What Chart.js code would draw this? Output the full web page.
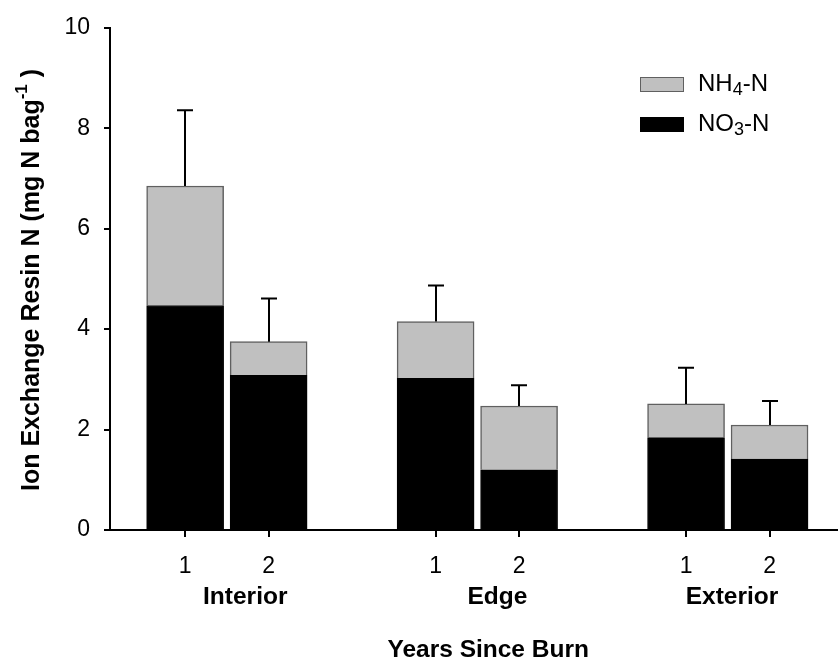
<!DOCTYPE html>
<html>
<head>
<meta charset="utf-8">
<script src="https://cdn.jsdelivr.net/npm/chart.js@4"></script>
<style>
  body { margin: 0; background: #fff; }
  #wrap { width: 838px; height: 667px; }
</style>
</head>
<body>
<div id="wrap"><canvas id="myChart"></canvas></div>
<script>
// data
const groups = ['Interior', 'Edge', 'Exterior'];
const groupPos = [1.72, 4.74, 7.55];
const years = ['1', '2', '1', '2', '1', '2'];
const xPos = [1, 2, 4, 5, 7, 8];
const no3 = [4.47, 3.08, 3.02, 1.20, 1.84, 1.41];
const nh4 = [2.38, 0.67, 1.13, 1.27, 0.67, 0.68];
const errs = [1.51, 0.86, 0.72, 0.41, 0.72, 0.48];
const yTicks = [0, 2, 4, 6, 8, 10];

const FONT = "'Liberation Sans', Arial, sans-serif";

const ctx = document.getElementById('myChart');

// error bars, group names, titles and legend
const extras = {
  id: 'extras',
  afterDatasetsDraw(chart) {
    const c = chart.ctx;
    const xs = chart.scales.x, ys = chart.scales.y;
    c.save();
    c.strokeStyle = '#000';
    c.lineWidth = 2;
    for (let i = 0; i < xPos.length; i++) {
      const px = Math.round(xs.getPixelForValue(xPos[i]));
      const top = ys.getPixelForValue(no3[i] + nh4[i]);
      const end = ys.getPixelForValue(no3[i] + nh4[i] + errs[i]);
      c.beginPath();
      c.moveTo(px, top);
      c.lineTo(px, end);
      c.moveTo(px - 8, end);
      c.lineTo(px + 8, end);
      c.stroke();
    }
    c.restore();
  },
  afterDraw(chart) {
    const c = chart.ctx;
    const xs = chart.scales.x;
    const base = chart.chartArea.bottom;
    c.save();
    c.fillStyle = '#000';
    c.textAlign = 'center';
    c.textBaseline = 'middle';

    c.font = 'bold 24.5px ' + FONT;
    groups.forEach((g, i) => {
      c.fillText(g, xs.getPixelForValue(groupPos[i]), base + 67);
    });
    c.fillText('Years Since Burn', xs.getPixelForValue(4.63), base + 120);

    // y title with superscript
    c.translate(32, 280);
    c.rotate(-Math.PI / 2);
    const main = 'Ion Exchange Resin N (mg N bag';
    const sup = '-1';
    const tail = ' )';
    c.font = 'bold 25px ' + FONT;
    const wm = c.measureText(main).width, wt = c.measureText(tail).width;
    c.font = 'bold 17px ' + FONT;
    const ws = c.measureText(sup).width;
    let x0 = -(wm + ws + wt) / 2;
    c.textAlign = 'left';
    c.font = 'bold 25px ' + FONT;
    c.fillText(main, x0, 0);
    c.font = 'bold 17px ' + FONT;
    c.fillText(sup, x0 + wm, -10);
    c.font = 'bold 25px ' + FONT;
    c.fillText(tail, x0 + wm + ws, 0);
    c.restore();

    // legend
    c.save();
    const items = [
      { ds: chart.data.datasets[1], main: 'NH', sub: '4', rest: '-N', y: 84 },
      { ds: chart.data.datasets[0], main: 'NO', sub: '3', rest: '-N', y: 124 }
    ];
    c.textBaseline = 'middle';
    c.textAlign = 'left';
    items.forEach(it => {
      c.fillStyle = it.ds.backgroundColor;
      c.fillRect(640, it.y - 7, 44, 15);
      c.strokeStyle = it.ds.borderColor;
      c.lineWidth = 1;
      c.strokeRect(640.5, it.y - 6.5, 43, 14);
      c.fillStyle = '#000';
      let tx = 698;
      c.font = '24px ' + FONT;
      c.fillText(it.main, tx, it.y);
      tx += c.measureText(it.main).width;
      c.font = '18px ' + FONT;
      c.fillText(it.sub, tx, it.y + 6);
      tx += c.measureText(it.sub).width;
      c.font = '24px ' + FONT;
      c.fillText(it.rest, tx, it.y);
    });
    c.restore();
  }
};

new Chart(ctx, {
  type: 'bar',
  data: {
    datasets: [{
      label: 'NO3-N',
      data: xPos.map((x, i) => ({ x: x, y: no3[i] })),
      backgroundColor: '#000000',
      borderColor: '#000000',
      borderWidth: 1,
      barThickness: 77
    }, {
      label: 'NH4-N',
      data: xPos.map((x, i) => ({ x: x, y: nh4[i] })),
      backgroundColor: '#c0c0c0',
      borderColor: '#606060',
      borderWidth: 1.5,
      barThickness: 77
    }]
  },
  options: {
    responsive: true,
    maintainAspectRatio: false,
    animation: false,
    layout: { padding: { top: 17, right: 0, left: 0, bottom: 0 } },
    plugins: {
      legend: { display: false },
      tooltip: { enabled: false }
    },
    scales: {
      x: {
        type: 'linear',
        stacked: true,
        offset: false,
        min: 0.1,
        max: 8.82,
        afterBuildTicks: s => { s.ticks = xPos.map(v => ({ value: v })); },
        afterFit: s => { s.height = 137; },
        ticks: {
          callback: (v) => years[xPos.indexOf(v)],
          font: { family: FONT, size: 23 },
          color: '#000',
          padding: 16,
          maxRotation: 0,
          autoSkip: false
        },
        grid: {
          offset: false,
          drawOnChartArea: false,
          tickLength: 7,
          color: '#000',
          lineWidth: 2
        },
        border: { color: '#000', width: 2 }
      },
      y: {
        stacked: true,
        min: 0,
        max: 10,
        afterBuildTicks: s => { s.ticks = yTicks.map(v => ({ value: v })); },
        afterFit: s => { s.width = 110; },
        ticks: {
          font: { family: FONT, size: 23 },
          color: '#000',
          padding: 14
        },
        grid: {
          drawOnChartArea: false,
          tickLength: 6,
          color: '#000',
          lineWidth: 2
        },
        border: { color: '#000', width: 2 }
      }
    }
  },
  plugins: [extras]
});
</script>
</body>
</html>
